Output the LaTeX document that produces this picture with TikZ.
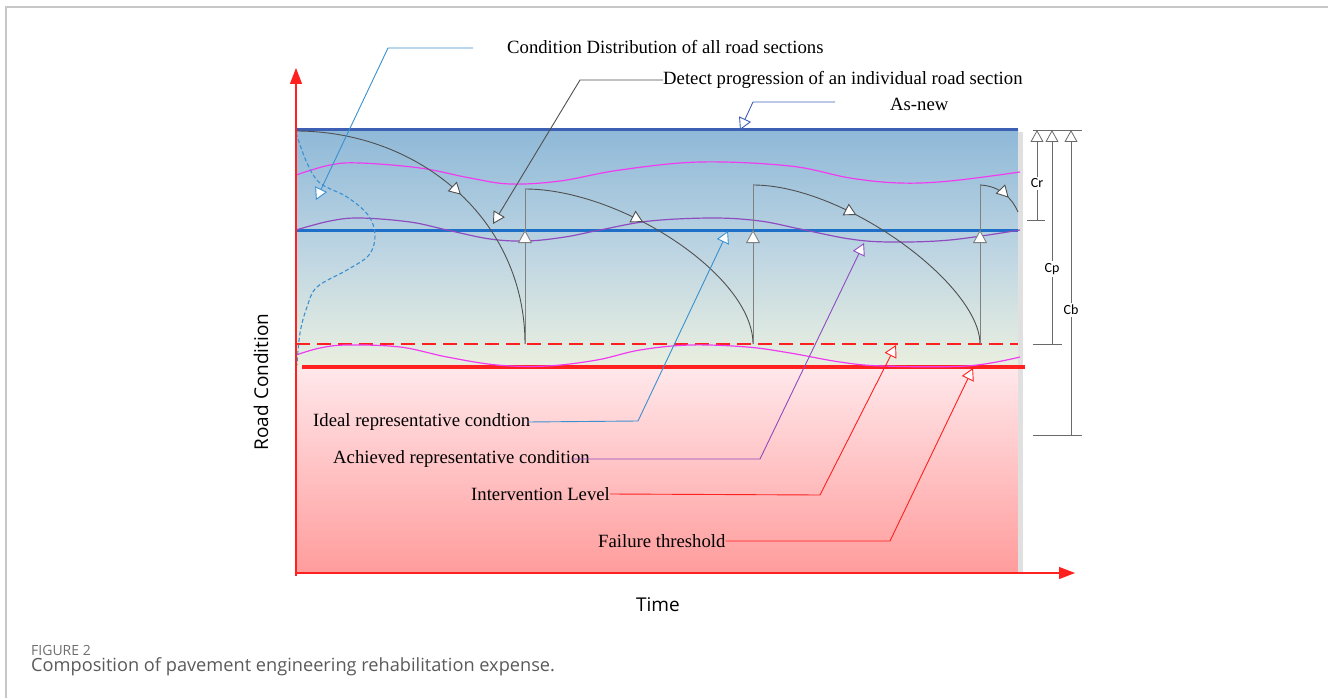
\documentclass[tikz,border=0pt]{standalone}
\usepackage{fontspec}
\setmainfont{Liberation Serif}
\newfontfamily\axisfont{Open Sans}
\newfontfamily\dimfont{Carlito}
\usetikzlibrary{arrows.meta,decorations.markings}
\definecolor{bgtop}{HTML}{8FB9D8}
\definecolor{bgmid}{HTML}{BCD4E2}
\definecolor{bgbot}{HTML}{EAF0E0}
\definecolor{pinktop}{HTML}{FFE8EB}
\definecolor{pinkbot}{HTML}{FF9C9C}
\definecolor{asnewblue}{HTML}{3D5FB4}
\definecolor{idealblue}{HTML}{1E6FC8}
\definecolor{lightblue}{HTML}{3A90D0}
\definecolor{magentaw}{HTML}{F03CF0}
\definecolor{purplew}{HTML}{8E4CC0}
\definecolor{axisred}{HTML}{FF2020}
\definecolor{curvegray}{HTML}{505050}
\definecolor{vgray}{HTML}{808080}
\definecolor{dimgray}{HTML}{6A6A6A}
\definecolor{capgray}{HTML}{5A5A5A}
\definecolor{figgray}{HTML}{6E6E6E}
\tikzset{
  opentip/.tip={Triangle[length=12pt,width=13pt,fill=white]},
  lbl/.style={font=\fontsize{18.7}{22}\selectfont, inner sep=0pt, anchor=west},
  curvestyle/.style={draw=curvegray, line width=0.9pt},
  vstyle/.style={draw=vgray, line width=0.9pt},
  midarrow/.style={postaction={decorate},decoration={markings,mark=at position #1 with {\arrow{opentip}}}},
  leader/.style={line width=0.9pt, -opentip},
  dimline/.style={draw=dimgray, line width=0.8pt},
  dimlbl/.style={font=\dimfont\fontsize{14}{16}\selectfont, fill=white, inner sep=2pt},
  wave/.style={line width=1.2pt},
}
\begin{document}
\begin{tikzpicture}[x=1pt,y=-1pt]
\useasboundingbox (0,0) rectangle (1328,698);
% frame
\draw[black!22,line width=1.2pt] (6,698) -- (6,7) -- (1328,7);
% background
\shade[top color=bgtop, bottom color=bgbot, middle color=bgmid] (296,130) rectangle (1018,367);
\shade[top color=pinktop, bottom color=pinkbot] (296,367) rectangle (1018,573);
\fill[black!12] (1018,132) rectangle (1023,573);
% reference levels
\draw[asnewblue, line width=3pt] (296,130) -- (1018,130);
\draw[idealblue, line width=3pt] (296,230) -- (1018,230);
\draw[axisred, line width=2pt, dash pattern=on 14pt off 7pt] (296,344) -- (1018,344);
\draw[axisred, line width=3.5pt] (302,367) -- (1025,367);
% waves
\draw[magentaw, wave] plot[smooth, tension=0.6] coordinates {(296,175) (330,165) (360,163) (420,168) (470,178) (510,184) (560,181) (620,170) (700,162) (790,166) (850,178) (900,183) (950,181) (1020,172)};
\draw[purplew, wave] plot[smooth, tension=0.6] coordinates {(296,230) (330,221) (360,218) (410,222) (447,230) (490,239) (527,241) (565,237) (600,230) (650,221) (713,218) (760,221) (800,229) (850,239) (890,242) (950,240) (1020,230)};
\draw[magentaw, wave] plot[smooth, tension=0.6] coordinates {(296,355) (320,348) (347,345) (400,347) (447,357) (497,365) (547,366) (597,360) (640,350) (690,345) (747,347) (790,353) (840,362) (883,366) (967,366) (1020,357)};
% distribution curve
\draw[lightblue, line width=1.1pt, dash pattern=on 4pt off 2.5pt] plot[smooth, tension=0.6] coordinates {(296,133) (307,163) (320,183) (347,197) (368,215) (375,235) (369,255) (347,270) (317,287) (307,307) (300,333) (297,365)};
% degradation curves
\draw[curvestyle, midarrow=0.52] (296,131) .. controls (420,131) and (525,220) .. (525,344);
\draw[curvestyle, midarrow=0.42] (525,189) .. controls (620,189) and (753,275) .. (753,344);
\draw[curvestyle, midarrow=0.37] (753,185) .. controls (845,185) and (980,285) .. (980,344);
\draw[curvestyle, midarrow=0.65] (980,185) .. controls (1000,186) and (1012,198) .. (1018,212);
% rehabilitation jumps
\foreach \x/\t in {525/189, 753/184, 980/184} {
  \draw[vstyle, -{Triangle[length=13pt,width=14pt,fill=white]}] (\x,344) -- (\x,230);
  \draw[vstyle] (\x,230) -- (\x,\t);
}
% axes
\draw[axisred, line width=1.2pt, -{Triangle[length=16pt,width=12pt]}] (296,576) -- (296,68);
\draw[axisred, line width=1.2pt, -{Triangle[length=16pt,width=12pt]}] (296,573) -- (1075,573);
% labels
\node[lbl] (cond) at (507,47) {Condition Distribution of all road sections};
\node[lbl] (detect) at (663,80) {Detect progression of an individual road section};
\node[lbl] (asnew) at (890,104) {As-new};
\node[lbl] (ideal) at (313,422) {Ideal representative condtion};
\node[lbl] (achieved) at (333,459) {Achieved representative condition};
\node[lbl] (interv) at (471,494) {Intervention Level};
\node[lbl] (failure) at (598,541) {Failure threshold};
% leader coordinates
\coordinate (condstart) at (473,48);
\coordinate (condbend) at (388,48);
\coordinate (condtip) at (316,200);
\coordinate (detbend) at (580,80);
\coordinate (dettip) at (493,224);
\coordinate (asstart) at (835,102);
\coordinate (asbend) at (753,102);
\coordinate (astip) at (740,130);
\coordinate (idealbend) at (638,421);
\coordinate (idealtip) at (728,231);
\coordinate (achbend) at (760,459);
\coordinate (achtip) at (864,243);
\coordinate (intbend) at (820,495);
\coordinate (inttip) at (896,345);
\coordinate (failbend) at (890,541);
\coordinate (failtip) at (973,368);
% leaders
\draw[leader, lightblue] (condstart) -- (condbend) -- (condtip);
\draw[leader, curvegray] (detect.west) -- (detbend) -- (dettip);
\draw[leader, asnewblue] (asstart) -- (asbend) -- (astip);
\draw[leader, lightblue] ([xshift=-3pt]ideal.east) -- (idealbend) -- (idealtip);
\draw[leader, purplew] ([xshift=-18pt]achieved.east) -- (achbend) -- (achtip);
\draw[leader, axisred] (interv.east) -- (intbend) -- (inttip);
\draw[leader, axisred] (failure.east) -- (failbend) -- (failtip);
% dimensions
\draw[dimline] (1033,130) -- (1082,130);
\draw[dimline] (1027,220) -- (1045,220);
\draw[dimline] (1033,344) -- (1062,344);
\draw[dimline] (1033,435) -- (1082,435);
\draw[dimline, -opentip] (1037,220) -- node[dimlbl, pos=0.41] (cr) {Cr} (1037,130);
\draw[dimline, -opentip] (1052,344) -- node[dimlbl, pos=0.35] (cp) {Cp} (1052,130);
\draw[dimline, -opentip] (1071,435) -- node[dimlbl, pos=0.41] (cb) {Cb} (1071,130);
% axis titles
\node[font=\axisfont\fontsize{19}{22}\selectfont, rotate=90] (ylab) at (261,382) {Road Condition};
\node[font=\axisfont\fontsize{19}{22}\selectfont] (xlab) at (658,605) {Time};
% caption
\node[font=\axisfont\fontsize{14}{16}\selectfont, text=figgray, anchor=west, inner sep=0pt] (fig) at (31,650) {FIGURE 2};
\node[font=\axisfont\fontsize{18.2}{21}\selectfont, text=capgray, anchor=west, inner sep=0pt] (cap) at (31,667) {Composition of pavement engineering rehabilitation expense.};
\end{tikzpicture}
\end{document}
